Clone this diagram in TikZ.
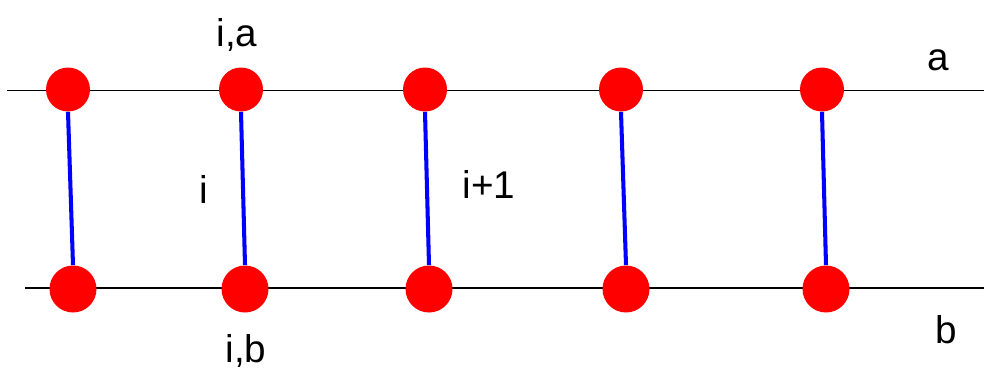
\documentclass[tikz,border=0pt]{standalone}
\usepackage{fontspec}
\setmainfont{Liberation Sans}
\usetikzlibrary{positioning}
\definecolor{dotred}{RGB}{255,0,0}
\definecolor{rungblue}{RGB}{0,0,255}

\begin{document}
\begin{tikzpicture}[
    site/.style={circle, fill=dotred, inner sep=0pt, minimum size=#1},
    rung/.style={rungblue, line width=2.3pt},
    chain/.style={black, line width=0.85pt},
    lbl/.style={font=\fontsize{22}{26}\selectfont, anchor=base, inner sep=0pt}
]
        \useasboundingbox (0,0) rectangle (19.68,7.44);
        % the two chains
        \coordinate (aL) at (0.14,5.63);
        \coordinate (aR) at (19.68,5.63);
        \coordinate (bL) at (0.50,1.68);
        \coordinate (bR) at (19.68,1.68);
        \draw[chain] (aL) -- (aR);
        \draw[chain] (bL) -- (bR);
        % sites and rungs
        \foreach \i/\xa/\xb in {1/1.36/1.46, 2/4.82/4.90, 3/8.50/8.58, 4/12.42/12.52, 5/16.44/16.52} {
            \node[site=0.88cm] (t\i) at (\xa,5.65) {};
            \node[site=0.94cm] (b\i) at (\xb,1.66) {};
            \draw[rung] (t\i.south) -- (b\i.north);
        }
        % labels
        \node[lbl] (ia) at (4.74,6.52) {i,a};
        \node[lbl] (ib) at (4.92,0.20) {i,b};
        \node[lbl] (ri) at (4.08,3.38) {i};
        \node[lbl] (rj) at (9.78,3.48) {i+1};
        \node[lbl] (la) at (18.76,6.02) {a};
        \node[lbl] (lb) at (18.92,0.58) {b};
\end{tikzpicture}
\end{document}
